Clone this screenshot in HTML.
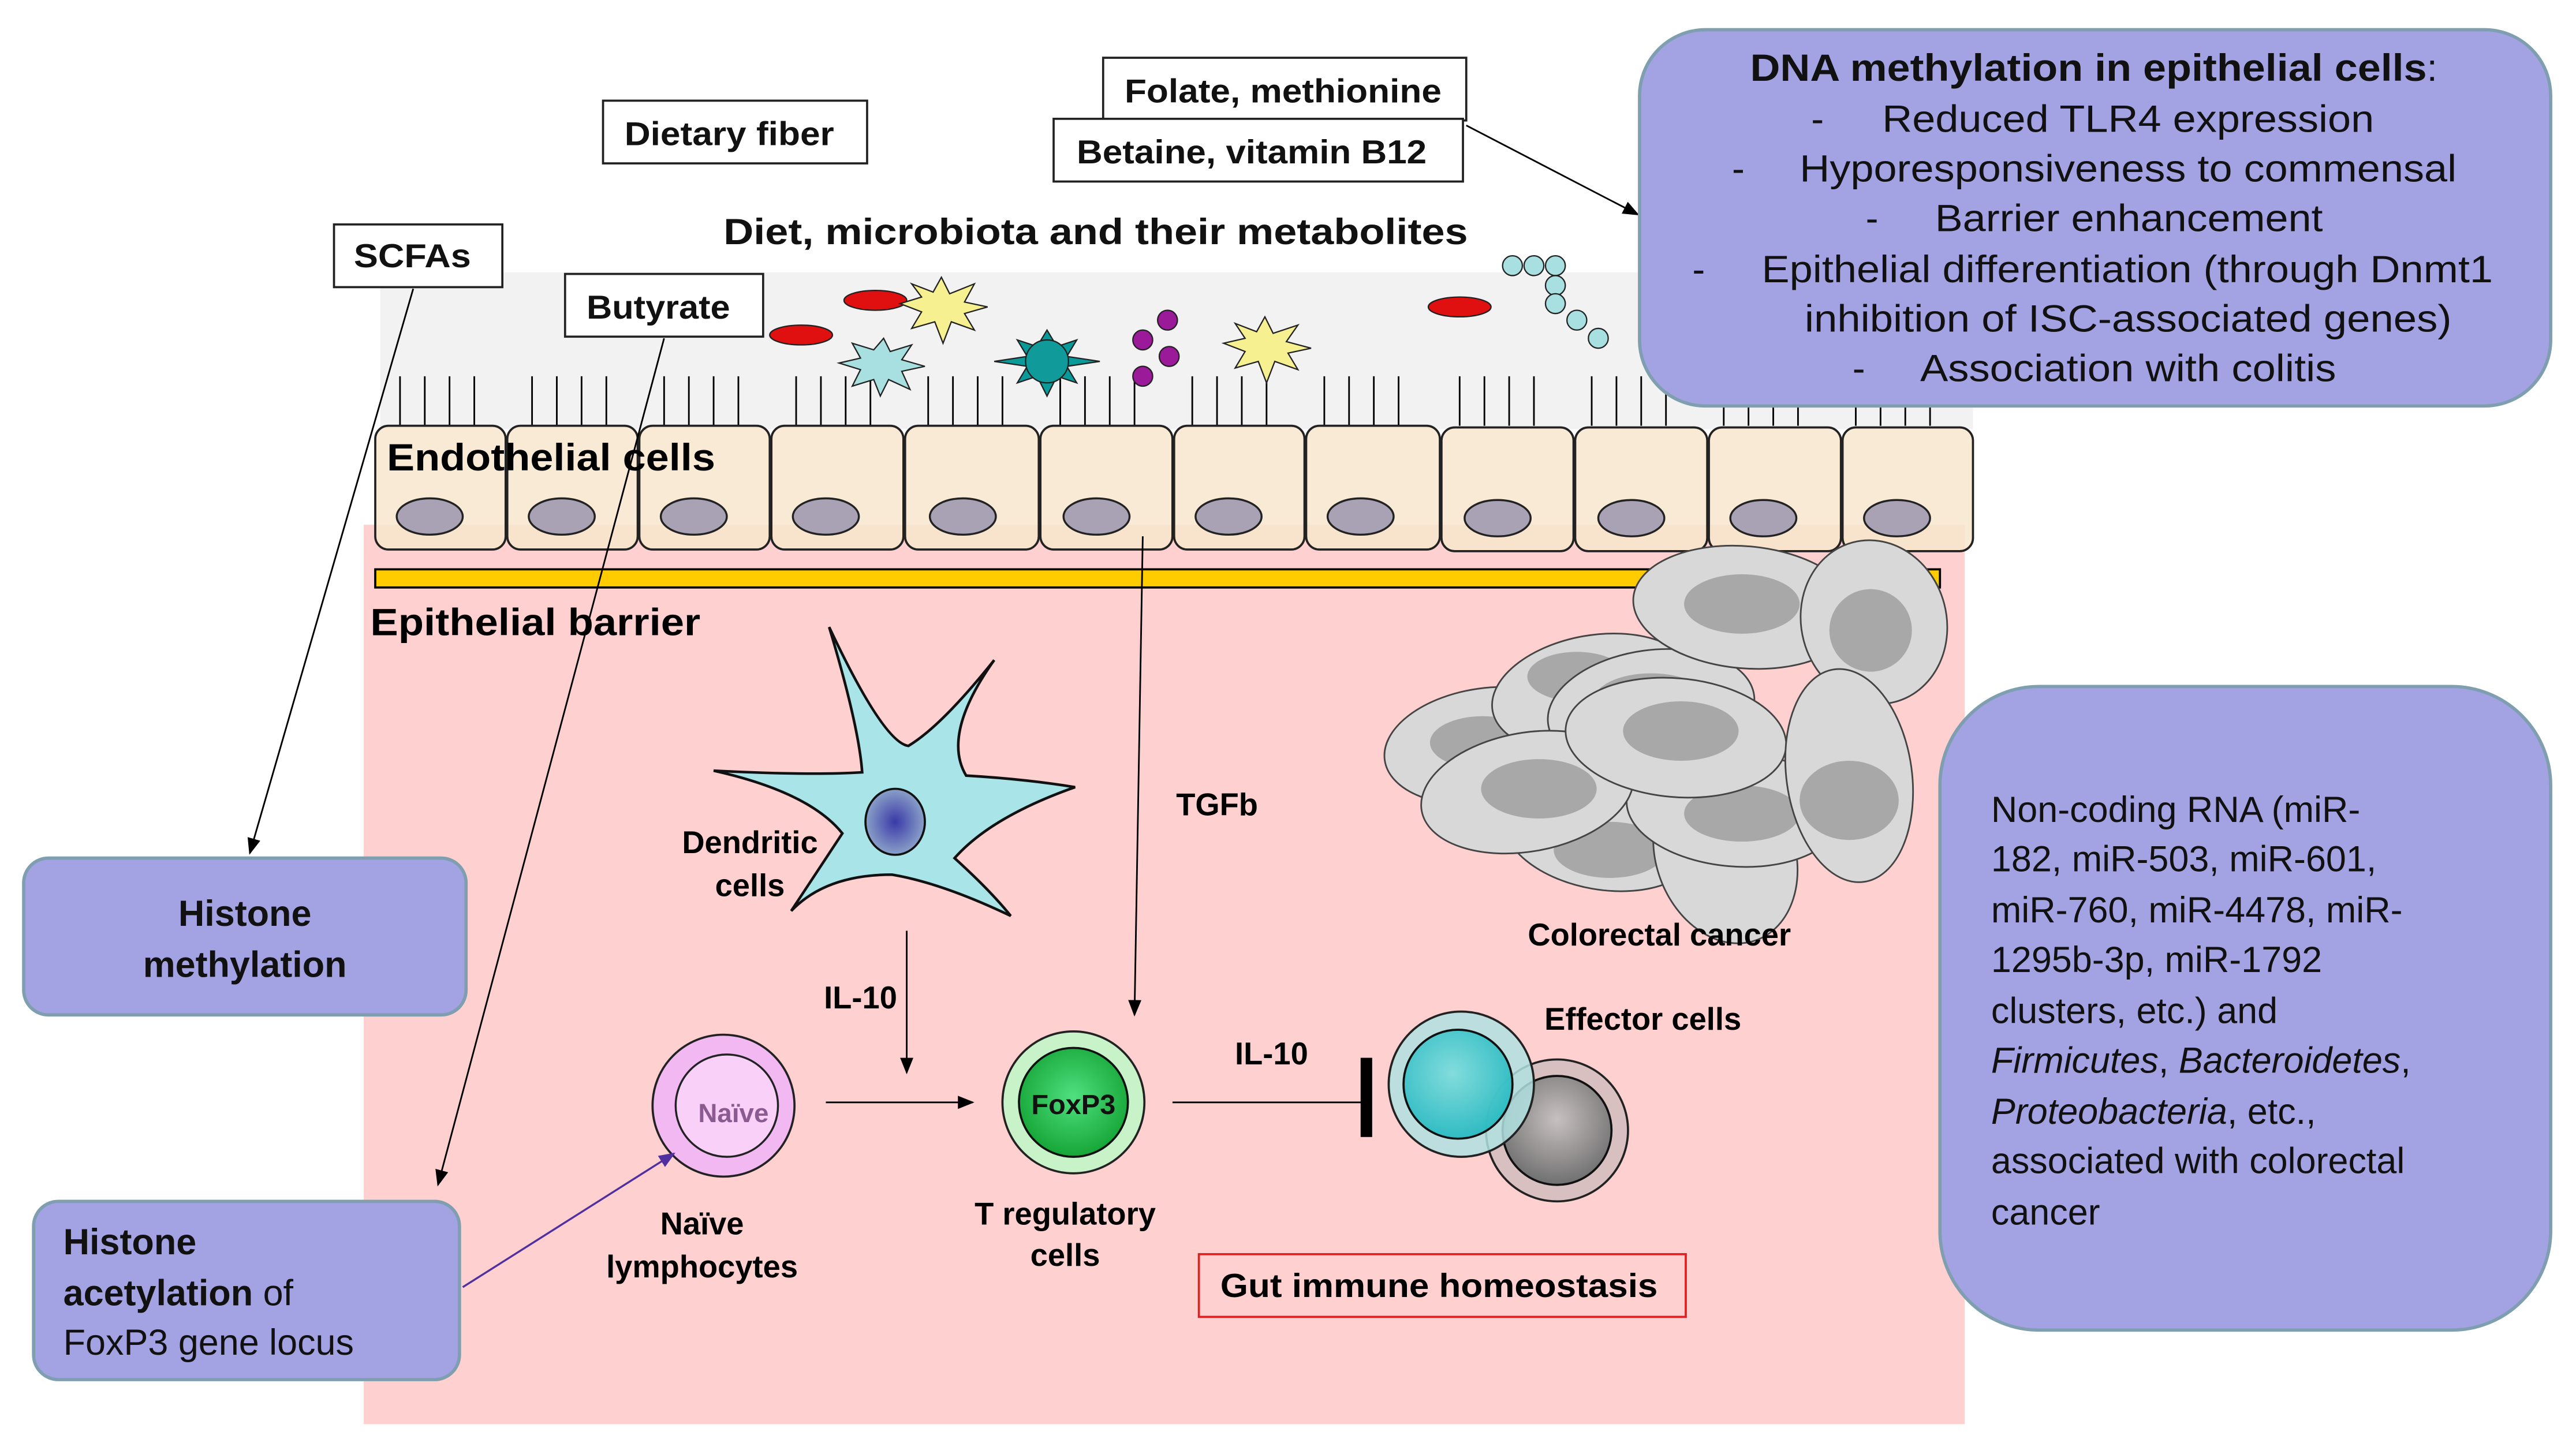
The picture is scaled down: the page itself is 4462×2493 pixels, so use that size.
<!DOCTYPE html>
<html><head><meta charset="utf-8"><style>html,body{margin:0;padding:0;background:#fff}svg{display:block}</style></head>
<body>
<svg width="4462" height="2493" viewBox="0 0 1560 872" xmlns="http://www.w3.org/2000/svg" font-family="Liberation Sans, Arial, sans-serif">
<defs>
<marker id="ar" markerWidth="10" markerHeight="10" refX="9" refY="5" orient="auto" markerUnits="userSpaceOnUse"><path d="M0,1 L10,5 L0,9 z" fill="#000"/></marker>
<marker id="arp" markerWidth="10" markerHeight="10" refX="9" refY="5" orient="auto" markerUnits="userSpaceOnUse"><path d="M0,1 L10,5 L0,9 z" fill="#5030a0"/></marker>
<radialGradient id="nuc" cx="0.5" cy="0.5" r="0.5"><stop offset="0" stop-color="#3a3aa8"/><stop offset="1" stop-color="#8aa0c8"/></radialGradient>
<radialGradient id="teal" cx="0.45" cy="0.4" r="0.6"><stop offset="0" stop-color="#7ddcdc"/><stop offset="1" stop-color="#20b8c0"/></radialGradient>
<radialGradient id="gray" cx="0.5" cy="0.4" r="0.6"><stop offset="0" stop-color="#c8c0c0"/><stop offset="1" stop-color="#707070"/></radialGradient>
<radialGradient id="grn" cx="0.5" cy="0.45" r="0.6"><stop offset="0" stop-color="#50e080"/><stop offset="1" stop-color="#10a030"/></radialGradient>
</defs>
<rect width="1560" height="872" fill="#fff"/>
<rect x="230" y="165" width="965" height="95" fill="#f2f2f2"/>
<rect x="220" y="318" width="970" height="545" fill="#ffd0d0"/>
<g stroke="#000" stroke-width="1">
<path d="M242 228V258M257 228V258M272 228V258M287 228V258 M322 228V258M337 228V258M352 228V258M367 228V258 M402 228V258M417 228V258M432 228V258M447 228V258 M482 228V258M497 228V258M512 228V258M527 228V258 M562 228V258M577 228V258M592 228V258M607 228V258 M642 228V258M657 228V258M672 228V258M687 228V258 M722 228V258M737 228V258M752 228V258M767 228V258 M802 228V258M817 228V258M832 228V258M847 228V258 M884 228V258M899 228V258M914 228V258M929 228V258 M964 228V258M979 228V258M994 228V258M1009 228V258 M1044 228V258M1059 228V258M1074 228V258M1089 228V258 M1124 228V258M1139 228V258M1154 228V258M1169 228V258"/>
</g>
<g stroke="#222" stroke-width="1.3" fill="#f7e6cc" fill-opacity="0.85">
<rect x="227" y="258" width="79" height="75" rx="8"/>
<rect x="307" y="258" width="79" height="75" rx="8"/>
<rect x="387" y="258" width="79" height="75" rx="8"/>
<rect x="467" y="258" width="80" height="75" rx="8"/>
<rect x="548" y="258" width="81" height="75" rx="8"/>
<rect x="630" y="258" width="80" height="75" rx="8"/>
<rect x="711" y="258" width="79" height="75" rx="8"/>
<rect x="791" y="258" width="81" height="75" rx="8"/>
<rect x="873" y="259" width="80" height="75" rx="8"/>
<rect x="954" y="259" width="80" height="75" rx="8"/>
<rect x="1035" y="259" width="80" height="75" rx="8"/>
<rect x="1116" y="259" width="79" height="75" rx="8"/>
</g>
<g fill="#a8a2b4" stroke="#222" stroke-width="1.2">
<ellipse cx="260" cy="313" rx="20" ry="11"/><ellipse cx="340" cy="313" rx="20" ry="11"/><ellipse cx="420" cy="313" rx="20" ry="11"/><ellipse cx="500" cy="313" rx="20" ry="11"/><ellipse cx="583" cy="313" rx="20" ry="11"/><ellipse cx="664" cy="313" rx="20" ry="11"/><ellipse cx="744" cy="313" rx="20" ry="11"/><ellipse cx="824" cy="313" rx="20" ry="11"/><ellipse cx="907" cy="314" rx="20" ry="11"/><ellipse cx="988" cy="314" rx="20" ry="11"/><ellipse cx="1068" cy="314" rx="20" ry="11"/><ellipse cx="1149" cy="314" rx="20" ry="11"/>
</g>
<rect x="227" y="345" width="948" height="11" fill="#ffcc00" stroke="#000" stroke-width="1.3"/>
<g stroke="#222" stroke-width="0.8">
<ellipse cx="530" cy="182" rx="19" ry="6" fill="#e01010"/>
<ellipse cx="485" cy="203" rx="19" ry="6" fill="#e01010"/>
<ellipse cx="884" cy="186" rx="19" ry="6" fill="#e01010"/>
<polygon points="570,168 575,178 590,172 584,183 598,186 584,190 590,200 576,195 571,208 566,195 552,199 558,189 545,184 558,180 552,172 565,177" fill="#f6f090"/>
<polygon points="766,192 771,202 786,197 779,207 794,211 780,214 786,224 772,219 767,232 762,219 748,223 754,213 741,208 754,205 748,196 761,201" fill="#f6f090"/>
<polygon points="535,205 539,213 552,209 546,218 560,222 546,225 551,236 538,230 533,240 529,230 516,234 521,224 508,220 521,217 516,208 529,212" fill="#a8dfe0"/>
<polygon points="634,200 640,210 652,206 646,216 666,219 646,222 652,232 640,228 634,240 628,228 616,232 622,222 602,219 622,216 616,206 628,210" fill="#0a9a9a"/>
<circle cx="634" cy="219" r="13" fill="#109a9a"/>
<g fill="#9a1a9a"><ellipse cx="707" cy="194" rx="6" ry="6"/><ellipse cx="692" cy="206" rx="6" ry="6"/><ellipse cx="708" cy="216" rx="6" ry="6"/><ellipse cx="692" cy="228" rx="6" ry="6"/></g>
<g fill="#a8dfe0"><circle cx="916" cy="161" r="6"/><circle cx="929" cy="161" r="6"/><circle cx="942" cy="161" r="6"/><circle cx="942" cy="173" r="6"/><circle cx="942" cy="184" r="6"/><circle cx="955" cy="194" r="6"/><circle cx="968" cy="205" r="6"/></g>
</g>
<g fill="#d8d8d8" stroke="#444" stroke-width="1">
<ellipse cx="900" cy="452" rx="62" ry="35" transform="rotate(-8 900 452)"/><ellipse cx="898" cy="450" rx="32" ry="16" fill="#a8a8a8" stroke="none"/>
<ellipse cx="970" cy="505" rx="60" ry="34" transform="rotate(10 970 505)"/><ellipse cx="975" cy="515" rx="34" ry="17" fill="#a8a8a8" stroke="none"/>
<ellipse cx="1045" cy="518" rx="42" ry="55" transform="rotate(-20 1045 518)"/>
<ellipse cx="965" cy="420" rx="62" ry="35" transform="rotate(-10 965 420)"/><ellipse cx="955" cy="410" rx="30" ry="15" fill="#a8a8a8" stroke="none"/>
<ellipse cx="1050" cy="490" rx="65" ry="35" transform="rotate(5 1050 490)"/><ellipse cx="1055" cy="493" rx="35" ry="17" fill="#a8a8a8" stroke="none"/>
<ellipse cx="1000" cy="430" rx="63" ry="36" transform="rotate(-8 1000 430)"/><ellipse cx="1000" cy="425" rx="35" ry="17" fill="#a8a8a8" stroke="none"/>
<ellipse cx="925" cy="480" rx="65" ry="36" transform="rotate(-10 925 480)"/><ellipse cx="932" cy="478" rx="35" ry="18" fill="#a8a8a8" stroke="none"/>
<ellipse cx="1015" cy="447" rx="67" ry="36" transform="rotate(5 1015 447)"/><ellipse cx="1018" cy="443" rx="35" ry="18" fill="#a8a8a8" stroke="none"/>
<ellipse cx="1057" cy="368" rx="68" ry="37" transform="rotate(5 1057 368)"/><ellipse cx="1055" cy="366" rx="35" ry="18" fill="#a8a8a8" stroke="none"/>
<ellipse cx="1135" cy="377" rx="44" ry="50" transform="rotate(-15 1135 377)"/><ellipse cx="1133" cy="382" rx="25" ry="25" fill="#a8a8a8" stroke="none"/>
<ellipse cx="1120" cy="470" rx="38" ry="65" transform="rotate(-8 1120 470)"/><ellipse cx="1120" cy="485" rx="30" ry="24" fill="#a8a8a8" stroke="none"/>
</g>
<path d="M502,380 Q535,450 550,452 Q570,440 602,400 Q570,445 585,470 Q620,472 651,477 Q600,495 578,520 Q600,540 612,555 Q570,535 540,530 Q500,530 479,552 Q500,520 510,505 Q490,480 432,467 Q490,470 522,468 Q520,440 502,380 Z" fill="#a8e4e8" stroke="#111" stroke-width="1.6"/>
<ellipse cx="542" cy="498" rx="18" ry="20" fill="url(#nuc)" stroke="#111" stroke-width="1.3"/>
<circle cx="438" cy="670" r="43" fill="#f2b8f2" stroke="#222" stroke-width="1.3"/>
<circle cx="440" cy="670" r="31" fill="#f8d0f8" stroke="#222" stroke-width="1.2"/>
<text x="444" y="680" font-size="16" font-weight="bold" fill="#8a5a90" text-anchor="middle">Naïve</text>
<circle cx="650" cy="668" r="43" fill="#c8f2c8" stroke="#222" stroke-width="1.3"/>
<circle cx="650" cy="668" r="33" fill="url(#grn)" stroke="#111" stroke-width="1.3"/>
<text x="650" y="675" font-size="17" font-weight="bold" fill="#111" text-anchor="middle">FoxP3</text>
<circle cx="943" cy="685" r="43" fill="#d8c0c0" stroke="#222" stroke-width="1.3"/>
<circle cx="943" cy="685" r="33" fill="url(#gray)" stroke="#111" stroke-width="1.3"/>
<circle cx="885" cy="657" r="44" fill="#b0e0e0" fill-opacity="0.85" stroke="#222" stroke-width="1.3"/>
<circle cx="883" cy="657" r="33" fill="url(#teal)" fill-opacity="0.9" stroke="#111" stroke-width="1.3"/>
<g stroke="#000" stroke-width="1" fill="none">
<line x1="250" y1="175" x2="151" y2="517" marker-end="url(#ar)"/>
<line x1="402" y1="205" x2="265" y2="718" marker-end="url(#ar)"/>
<line x1="692" y1="325" x2="687" y2="615" marker-end="url(#ar)"/>
<line x1="549" y1="564" x2="549" y2="650" marker-end="url(#ar)"/>
<line x1="500" y1="668" x2="589" y2="668" marker-end="url(#ar)"/>
<line x1="710" y1="668" x2="828" y2="668"/>
<line x1="888" y1="76" x2="992" y2="130" marker-end="url(#ar)"/>
</g>
<rect x="824" y="641" width="7" height="48" fill="#000"/>
<line x1="280" y1="780" x2="408" y2="699" stroke="#5030a0" stroke-width="1.2" marker-end="url(#arp)"/>
<g fill="#fff" stroke="#222" stroke-width="1.3">
<rect x="365" y="61" width="160" height="38"/>
<rect x="668" y="35" width="220" height="38"/>
<rect x="638" y="72" width="248" height="38"/>
<rect x="202" y="136" width="102" height="38"/>
<rect x="342" y="166" width="120" height="38"/>
</g>
<g font-size="20" font-weight="bold" fill="#111">
<text x="378" y="88" textLength="127" lengthAdjust="spacingAndGlyphs">Dietary fiber</text>
<text x="681" y="62" textLength="192" lengthAdjust="spacingAndGlyphs">Folate, methionine</text>
<text x="652" y="99" textLength="212" lengthAdjust="spacingAndGlyphs">Betaine, vitamin B12</text>
<text x="214" y="162" textLength="71" lengthAdjust="spacingAndGlyphs">SCFAs</text>
<text x="355" y="193" textLength="87" lengthAdjust="spacingAndGlyphs">Butyrate</text>
<text x="438" y="148" font-size="22" textLength="451" lengthAdjust="spacingAndGlyphs">Diet, microbiota and their metabolites</text>
</g>
<g font-size="23" font-weight="bold" fill="#000">
<text x="234" y="285" textLength="199" lengthAdjust="spacingAndGlyphs">Endothelial cells</text>
<text x="224" y="385" textLength="200" lengthAdjust="spacingAndGlyphs">Epithelial barrier</text>
</g>
<g font-size="19" font-weight="bold" fill="#000" text-anchor="middle">
<text x="737" y="494">TGFb</text>
<text x="454" y="517">Dendritic</text><text x="454" y="543">cells</text>
<text x="521" y="611">IL-10</text>
<text x="770" y="645">IL-10</text>
<text x="425" y="748">Naïve</text><text x="425" y="774">lymphocytes</text>
<text x="645" y="742">T regulatory</text><text x="645" y="767">cells</text>
<text x="995" y="624">Effector cells</text>
<text x="1005" y="573">Colorectal cancer</text>
</g>
<rect x="726" y="760" width="295" height="38" fill="none" stroke="#e02020" stroke-width="1.3"/>
<text x="739" y="786" font-size="20" font-weight="bold" textLength="265" lengthAdjust="spacingAndGlyphs">Gut immune homeostasis</text>
<g fill="#a3a3e3" stroke="#7f9fb0" stroke-width="2">
<rect x="993" y="18" width="552" height="228" rx="40"/>
<rect x="1175" y="416" width="370" height="390" rx="60"/>
<rect x="14" y="520" width="268" height="95" rx="15"/>
<rect x="20" y="728" width="258" height="108" rx="15"/>
</g>
<g font-size="23" fill="#111" lengthAdjust="spacingAndGlyphs">
<text x="1060" y="49"><tspan font-weight="bold" textLength="410" lengthAdjust="spacingAndGlyphs">DNA methylation in epithelial cells</tspan>:</text>
<text x="1097" y="80">-</text><text x="1140" y="80" textLength="298" lengthAdjust="spacingAndGlyphs">Reduced TLR4 expression</text>
<text x="1049" y="110">-</text><text x="1090" y="110" textLength="398" lengthAdjust="spacingAndGlyphs">Hyporesponsiveness to commensal</text>
<text x="1130" y="140">-</text><text x="1172" y="140" textLength="235" lengthAdjust="spacingAndGlyphs">Barrier enhancement</text>
<text x="1025" y="171">-</text><text x="1067" y="171" textLength="443" lengthAdjust="spacingAndGlyphs">Epithelial differentiation (through Dnmt1</text>
<text x="1093" y="201" textLength="392" lengthAdjust="spacingAndGlyphs">inhibition of ISC-associated genes)</text>
<text x="1122" y="231">-</text><text x="1163" y="231" textLength="252" lengthAdjust="spacingAndGlyphs">Association with colitis</text>
</g>
<g font-size="22" fill="#111" text-anchor="middle" font-weight="bold">
<text x="148" y="561">Histone</text>
<text x="148" y="592">methylation</text>
</g>
<g font-size="22" fill="#111">
<text x="38" y="760" font-weight="bold">Histone</text>
<text x="38" y="791"><tspan font-weight="bold">acetylation</tspan> of</text>
<text x="38" y="821">FoxP3 gene locus</text>
<text x="1206" y="498">Non-coding RNA (miR-</text>
<text x="1206" y="528">182, miR-503, miR-601,</text>
<text x="1206" y="559">miR-760, miR-4478, miR-</text>
<text x="1206" y="589">1295b-3p, miR-1792</text>
<text x="1206" y="620">clusters, etc.) and</text>
<text x="1206" y="650"><tspan font-style="italic">Firmicutes</tspan>, <tspan font-style="italic">Bacteroidetes</tspan>,</text>
<text x="1206" y="681"><tspan font-style="italic">Proteobacteria</tspan>, etc.,</text>
<text x="1206" y="711">associated with colorectal</text>
<text x="1206" y="742">cancer</text>
</g>
</svg>
</body></html>
